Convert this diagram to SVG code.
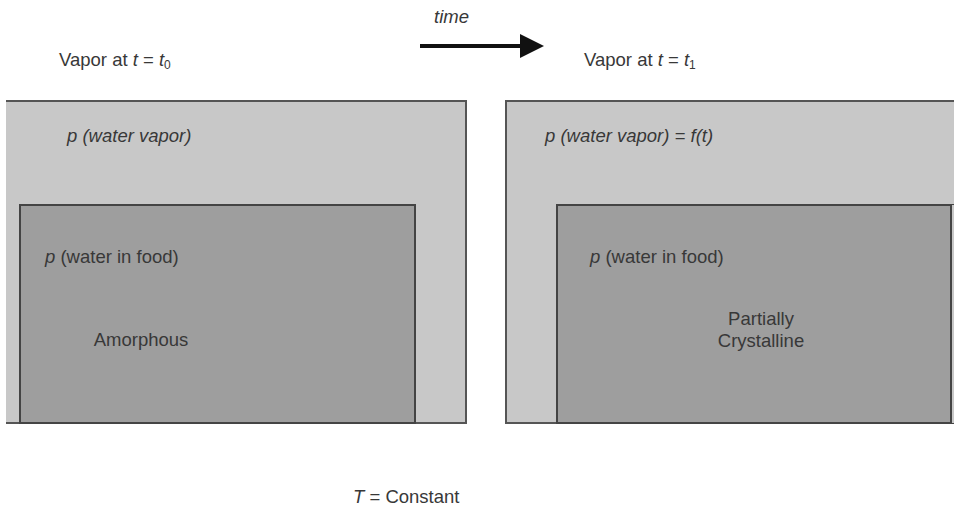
<svg xmlns="http://www.w3.org/2000/svg" width="954" height="509" viewBox="0 0 954 509">
<style>
text{font-family:"Liberation Sans",Arial,sans-serif;font-size:18.5px;fill:#383838}
.i{font-style:italic}
.outer{fill:#c8c8c8;stroke:#555;stroke-width:2}
.inner{fill:#9e9e9e;stroke:#444;stroke-width:2}
</style>
<defs>
<marker id="ah" markerWidth="6" markerHeight="6" refX="1" refY="3" orient="auto" markerUnits="strokeWidth"><path d="M0,0 L6,3 L0,6 Z" fill="#111"/></marker>
</defs>
<rect width="954" height="509" fill="#fff"/>
<g id="left-vapor">
<path class="outer" d="M6,101 H466 V423 H6"/>
<text x="67" y="142" class="i">p (water vapor)</text>
</g>
<g id="left-food">
<rect class="inner" x="20" y="205" width="395" height="218"/>
<text x="45" y="263"><tspan class="i">p</tspan> (water in food)</text>
<text x="141" y="346" text-anchor="middle">Amorphous</text>
</g>
<g id="right-vapor">
<path class="outer" d="M954,101 H506 V423 H954"/>
<text x="545" y="142" class="i">p (water vapor) = f(t)</text>
</g>
<g id="right-food">
<path class="inner" d="M954,205 H557 V423 H954"/>
<rect x="951" y="205" width="3" height="218" fill="#c8c8c8"/>
<line x1="951" y1="205" x2="951" y2="423" stroke="#444" stroke-width="2"/>
<text x="590" y="263"><tspan class="i">p</tspan> (water in food)</text>
<text x="761" y="325" text-anchor="middle">Partially</text>
<text x="761" y="347" text-anchor="middle">Crystalline</text>
</g>
<g id="labels">
<text x="59" y="66">Vapor at <tspan class="i">t</tspan> = <tspan class="i">t</tspan><tspan font-size="12" dy="3">0</tspan></text>
<text x="584" y="66">Vapor at <tspan class="i">t</tspan> = <tspan class="i">t</tspan><tspan font-size="12" dy="3">1</tspan></text>
<text x="434" y="23" class="i">time</text>
<text x="353" y="503"><tspan class="i">T</tspan> = Constant</text>
</g>
<g id="connectors">
<line x1="420" y1="46" x2="524" y2="46" stroke="#111" stroke-width="4" marker-end="url(#ah)"/>
</g>
</svg>
